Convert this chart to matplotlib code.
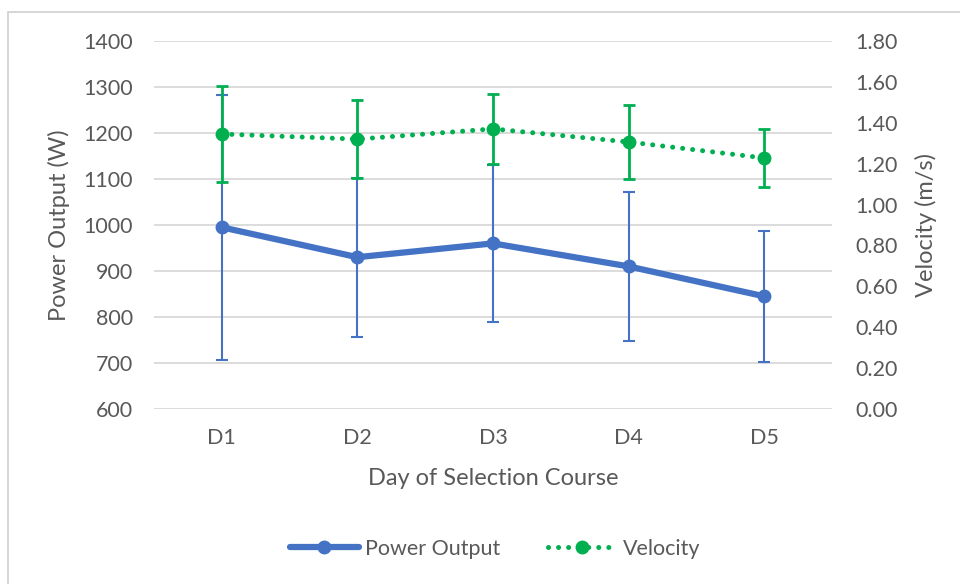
import matplotlib
matplotlib.use("Agg")
import matplotlib.pyplot as plt
from matplotlib.patches import Rectangle
from matplotlib.lines import Line2D

days = ["D1", "D2", "D3", "D4", "D5"]
power = [995, 930, 960, 910, 845]
power_err = [288, 173, 170, 162, 143]
velocity = [1.345, 1.32, 1.37, 1.306, 1.228]
velocity_err = [0.235, 0.19, 0.17, 0.18, 0.14]
left_ticks = [600, 700, 800, 900, 1000, 1100, 1200, 1300, 1400]
right_ticks = [0.0, 0.2, 0.4, 0.6, 0.8, 1.0, 1.2, 1.4, 1.6, 1.8]

plt.rcParams['font.family'] = ['Lato', 'DejaVu Sans']
txt = '#595959'
blue = '#4472C4'
green = '#00B050'

fig = plt.figure(figsize=(9.6, 5.84), dpi=100)
fig.patches.append(Rectangle((8/960, -0.1), 1.2, 1 - 12/584 + 0.1, transform=fig.transFigure,
                             fill=False, edgecolor='#d0d0d0', linewidth=1.2))
ax = fig.add_axes([154/960, 1 - 409/584, (832 - 154)/960, (409 - 41)/584])
ax2 = ax.twinx()

x = list(range(len(days)))
ax.set_xlim(-0.5, 4.5)
ax.set_ylim(600, 1400)
ax2.set_ylim(0, 1.8)
ax.set_yticks(left_ticks)
ax.set_yticklabels([str(t) for t in left_ticks])
ax2.set_yticks(right_ticks)
ax2.set_yticklabels([f"{t:.2f}" for t in right_ticks])
ax.set_xticks(x)
ax.set_xticklabels(days)

for a in (ax, ax2):
    for s in a.spines.values():
        s.set_visible(False)
    a.tick_params(length=0, labelsize=15.5, colors=txt)
ax.tick_params(axis='y', pad=15)
ax2.tick_params(axis='y', pad=17)
ax.tick_params(axis='x', pad=14)
ax.grid(axis='y', color='#d9d9d9', linewidth=1.3)
ax.set_axisbelow(True)

ax.errorbar(x, power, yerr=power_err, color=blue, linewidth=4.5, marker='o', markersize=9,
            ecolor=blue, elinewidth=1.5, capsize=4, capthick=1.5, solid_capstyle='round',
            label='Power Output', zorder=3)
ax2.errorbar(x, velocity, yerr=velocity_err, color=green, linewidth=3.6, marker='o', markersize=9,
             linestyle=(0, (0.01, 2)), dash_capstyle='round',
             ecolor=green, elinewidth=2, capsize=4, capthick=2, label='Velocity', zorder=3)

ax.set_ylabel("Power Output (W)", fontsize=17, color=txt, labelpad=10)
ax2.set_ylabel("Velocity (m/s)", fontsize=17, color=txt, labelpad=12)
ax.set_xlabel("Day of Selection Course", fontsize=17, color=txt, labelpad=14)

hl1 = Line2D([], [], color=blue, linewidth=4.5, marker='o', markersize=9, solid_capstyle='round')
hl2 = Line2D([], [], color=green, linewidth=3.6, marker='o', markersize=9,
             linestyle=(0, (0.01, 2)), dash_capstyle='round')
fig.legend([hl1, hl2], ['Power Output', 'Velocity'], loc='center', bbox_to_anchor=(0.516, 1 - 549/584),
           ncol=2, frameon=False, fontsize=15.5, labelcolor=txt, handlelength=3.2, columnspacing=2.2,
           handletextpad=0.3)

fig.savefig("out.png", dpi=100)
